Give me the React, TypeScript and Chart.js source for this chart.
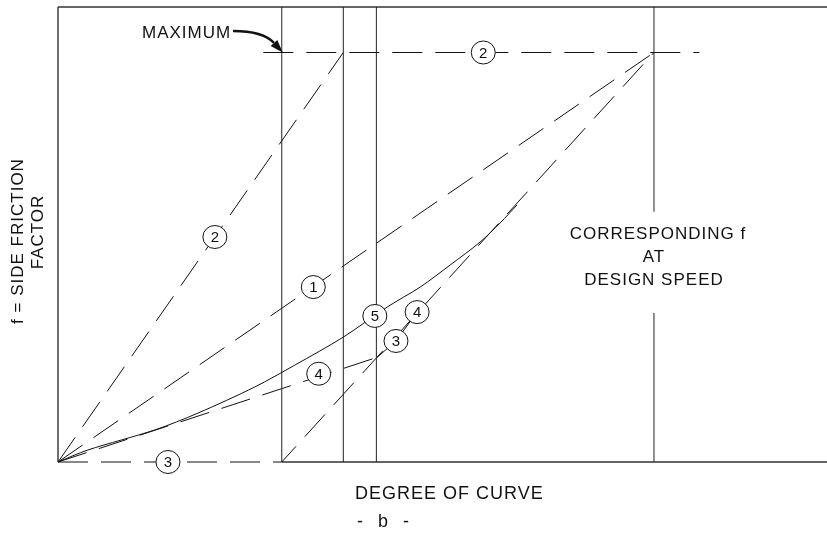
import React, { useEffect, useRef } from "react";
import { Chart, registerables } from "chart.js";

Chart.register(...registerables);

// ---- scale extents (arbitrary units: degree of curve 0..100, f 0..0.2) ----
const X_MAX = 100;
const Y_MAX = 0.2;

// ---- key values ----
const F_MAX = 0.18;          // maximum side friction factor
const D_MAX_F = 29.1;        // degree at which method 3 starts using f
const D_REF_A = 37.1;        // degree where method 2 reaches f max
const D_REF_B = 41.4;        // degree where method 4 joins method 3
const D_DESIGN = 77.5;       // degree at design speed
const verticalRefs = [D_MAX_F, D_REF_A, D_REF_B];
const designGapLow = 0.0655; // text block gap on the design-speed line
const designGapHigh = 0.11;

// ---- series (x = degree of curve, y = f) ----
const method1 = [[0, 0], [77.5, 0.18]];
const method2 = [[0, 0], [37.1, 0.18]];
const maxFLine = [[26.7, 0.18], [83.4, 0.18]];
const method3 = [[0, 0], [29.1, 0], [77.5, 0.18]];
const method4 = [[0, 0], [41.5, 0.046]];
const method5 = [
  [0, 0], [3.9, 0.0053], [12.6, 0.0141], [18.2, 0.0215], [25.6, 0.033],
  [30.8, 0.0426], [37.1, 0.0549], [42.8, 0.0681], [47.1, 0.0769],
  [51.0, 0.0866], [54.9, 0.0967], [57.5, 0.1051], [59.7, 0.113],
];

// ---- circled method labels ----
const labelTexts = ["2", "1", "3", "2", "5", "4", "3", "4"];
const labelX = [20.4, 33.2, 14.3, 55.3, 41.2, 33.9, 43.95, 46.7];
const labelY = [0.0989, 0.0769, 0, 0.18, 0.0642, 0.0388, 0.0532, 0.0659];
// leader from method 4/3 junction to the "3" and "4" tags
const leader = [[41.5, 0.046], [43.95, 0.0532], [46.7, 0.0659]];

// ---- text ----
const yTitle = ["f = SIDE FRICTION", "FACTOR"];
const xTitle = ["DEGREE OF CURVE", "- b -"];
const designText = ["CORRESPONDING f", "AT", "DESIGN SPEED"];
const maxText = "MAXIMUM";

const pts = (arr: number[][]) => arr.map(([x, y]) => ({ x, y }));
const FONT = '"Liberation Sans", Arial, sans-serif';

export default function App() {
  const ref = useRef<HTMLCanvasElement>(null);

  useEffect(() => {
    const canvas = ref.current!;
    const dashed = (data: number[][]) => ({
      type: "line" as const,
      data: pts(data),
      borderColor: "#111",
      borderWidth: 1,
      borderDash: [30, 13],
      pointRadius: 0,
      fill: false,
      tension: 0,
      clip: false as any,
    });
    const solid = (data: any[], width = 1, color = "#111", tension = 0) => ({
      type: "line" as const,
      data,
      borderColor: color,
      borderWidth: width,
      pointRadius: 0,
      fill: false,
      tension,
      spanGaps: false,
      clip: false as any,
    });

    const datasets: any[] = [];
    verticalRefs.forEach((x) =>
      datasets.push(solid([{ x, y: 0 }, { x, y: Y_MAX }], 1, "#222"))
    );
    datasets.push(
      solid(
        [
          { x: D_DESIGN, y: 0 },
          { x: D_DESIGN, y: designGapLow },
          { x: D_DESIGN, y: null },
          { x: D_DESIGN, y: designGapHigh },
          { x: D_DESIGN, y: Y_MAX },
        ],
        1,
        "#222"
      )
    );
    datasets.push(dashed(method1));
    datasets.push(dashed(method2));
    datasets.push(dashed(maxFLine));
    datasets.push(dashed(method3));
    datasets.push(dashed(method4));
    datasets.push(solid(pts(method5), 1, "#111", 0.3));

    const annot = {
      id: "annot",
      beforeDatasetsDraw(chart: any) {
        const { ctx, chartArea } = chart;
        const xs = chart.scales.x;
        ctx.save();
        ctx.strokeStyle = "#333";
        ctx.lineWidth = 1.4;
        ctx.beginPath();
        ctx.moveTo(chartArea.left, chartArea.top);
        ctx.lineTo(chartArea.right, chartArea.top);
        ctx.moveTo(chartArea.left, chartArea.top);
        ctx.lineTo(chartArea.left, chartArea.bottom);
        ctx.moveTo(xs.getPixelForValue(D_MAX_F), chartArea.bottom);
        ctx.lineTo(chartArea.right, chartArea.bottom);
        ctx.stroke();
        ctx.restore();
      },
      afterDatasetsDraw(chart: any) {
        const { ctx } = chart;
        const xs = chart.scales.x;
        const ys = chart.scales.y;
        const px = (v: number) => xs.getPixelForValue(v);
        const py = (v: number) => ys.getPixelForValue(v);
        ctx.save();

        // leaders
        ctx.strokeStyle = "#111";
        ctx.lineWidth = 1;
        ctx.beginPath();
        leader.forEach(([x, y], i) => {
          if (i === 0) ctx.moveTo(px(x), py(y));
          else ctx.lineTo(px(x), py(y));
        });
        ctx.stroke();

        // circled labels
        ctx.font = `15px ${FONT}`;
        ctx.textAlign = "center";
        ctx.textBaseline = "middle";
        labelTexts.forEach((t, i) => {
          const cx = px(labelX[i]);
          const cy = py(labelY[i]);
          ctx.beginPath();
          ctx.ellipse(cx, cy, 12, 11.5, 0, 0, Math.PI * 2);
          ctx.fillStyle = "#fff";
          ctx.fill();
          ctx.strokeStyle = "#111";
          ctx.stroke();
          ctx.fillStyle = "#111";
          ctx.fillText(t, cx, cy + 1);
        });

        ctx.fillStyle = "#111";
        (ctx as any).letterSpacing = "1px";

        // MAXIMUM + arrow
        ctx.font = `17px ${FONT}`;
        ctx.textAlign = "left";
        ctx.fillText(maxText, 142, 33);
        const tipX = px(D_MAX_F) + 1;
        const tipY = py(F_MAX);
        const sx = 233, sy = 31, cxp = 263, cyp = 31;
        let dx = tipX - cxp, dy = tipY - cyp;
        const len = Math.hypot(dx, dy);
        dx /= len; dy /= len;
        const hl = 13, hw = 4.5;
        const bx = tipX - dx * hl, by = tipY - dy * hl;
        ctx.strokeStyle = "#111";
        ctx.lineWidth = 2.4;
        ctx.beginPath();
        ctx.moveTo(sx, sy);
        ctx.quadraticCurveTo(cxp, cyp, bx, by);
        ctx.stroke();
        ctx.beginPath();
        ctx.moveTo(tipX, tipY);
        ctx.lineTo(bx - dy * hw, by + dx * hw);
        ctx.lineTo(bx + dy * hw, by - dx * hw);
        ctx.closePath();
        ctx.fill();

        // design speed text
        ctx.textAlign = "center";
        const dxp = px(D_DESIGN);
        const topY = py(designGapHigh);
        ctx.fillText(designText[0], dxp + 4, topY + 23);
        ctx.fillText(designText[1], dxp, topY + 46);
        ctx.fillText(designText[2], dxp, topY + 69);

        // x title
        ctx.font = `18px ${FONT}`;
        ctx.textAlign = "left";
        ctx.fillText(xTitle[0], 355, 494);
        (ctx as any).letterSpacing = "5px";
        ctx.fillText(xTitle[1], 357, 522);

        // y title
        (ctx as any).letterSpacing = "1px";
        ctx.font = `17px ${FONT}`;
        ctx.textAlign = "center";
        ctx.save();
        ctx.translate(18, 241);
        ctx.rotate(-Math.PI / 2);
        ctx.fillText(yTitle[0], 0, 0);
        ctx.restore();
        ctx.save();
        ctx.translate(38, 232);
        ctx.rotate(-Math.PI / 2);
        ctx.fillText(yTitle[1], 0, 0);
        ctx.restore();

        ctx.restore();
      },
    };

    const chart = new Chart(canvas, {
      type: "line",
      data: { datasets },
      options: {
        animation: false,
        responsive: false,
        devicePixelRatio: 1,
        events: [],
        layout: { padding: { left: 58, top: 7, right: 0, bottom: 72 } },
        plugins: { legend: { display: false }, tooltip: { enabled: false } },
        scales: {
          x: { type: "linear", min: 0, max: X_MAX, display: false },
          y: { type: "linear", min: 0, max: Y_MAX, display: false },
        },
      },
      plugins: [annot],
    } as any);
    return () => chart.destroy();
  }, []);

  return (
    <div
      style={{
        position: "absolute",
        left: 0,
        top: 0,
        width: 827,
        height: 534,
        background: "#fff",
      }}
    >
      <canvas ref={ref} width={827} height={534} style={{ display: "block" }} />
    </div>
  );
}
